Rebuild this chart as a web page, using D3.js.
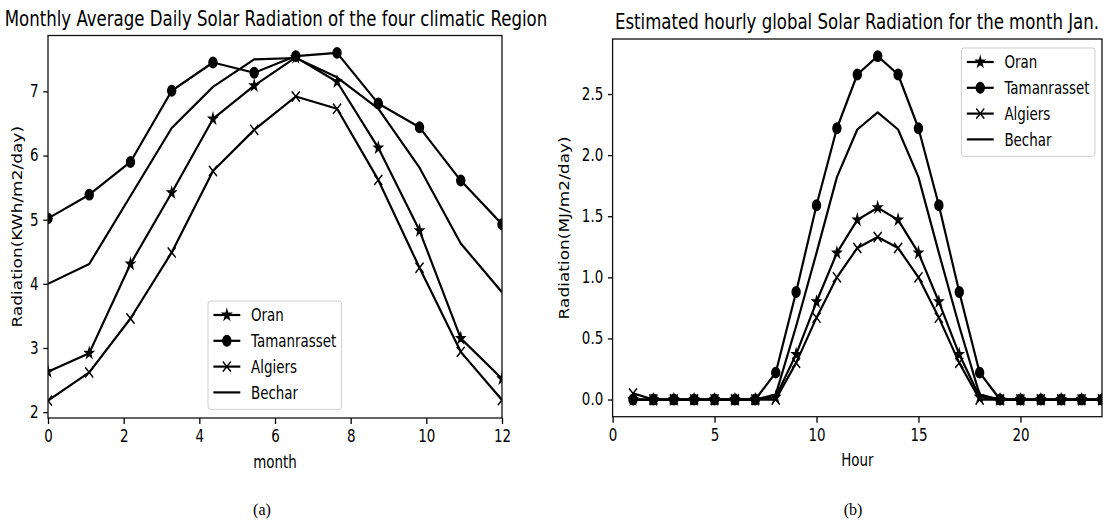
<!DOCTYPE html>
<html>
<head>
<meta charset="utf-8">
<script src="https://cdn.jsdelivr.net/npm/d3@7"></script>
<style>
  body { margin: 0; background: #fff; }
  text { font-family: "DejaVu Sans", sans-serif; fill: #000; }
  .axis text { font-size: 17px; }
  .axis line { stroke: #000; stroke-width: 1.3; }
  .axis path { display: none; }
  .spine { fill: none; stroke: #111; stroke-width: 1.3; }
  .series { fill: none; stroke: #000; stroke-width: 2.2; stroke-linejoin: round; }
  .label { font-size: 17px; }
  .title { font-size: 21px; }
  .caption { font-family: "Liberation Serif", serif; font-size: 16px; }
</style>
</head>
<body>
<script>
// the source figure is squeezed horizontally, so text and markers are too
var SX = 0.79;

var regions = ["Oran", "Tamanrasset", "Algiers", "Bechar"];
var markers = ["star", "circle", "x", "none"];

// (a) monthly average daily radiation, KWh/m2/day
var months = [0, 1.09, 2.18, 3.27, 4.36, 5.45, 6.55, 7.64, 8.73, 9.82, 10.91, 12];
var oranMonthly        = [2.63, 2.92, 4.31, 5.42, 6.57, 7.09, 7.53, 7.15, 6.12, 4.83, 3.15, 2.52];
var tamanrassetMonthly = [5.02, 5.39, 5.90, 7.01, 7.45, 7.29, 7.55, 7.60, 6.81, 6.44, 5.61, 4.93];
var algiersMonthly     = [2.18, 2.62, 3.46, 4.49, 5.76, 6.40, 6.92, 6.73, 5.62, 4.25, 2.94, 2.19];
var becharMonthly      = [4.00, 4.31, 5.37, 6.43, 7.07, 7.50, 7.52, 7.22, 6.73, 5.81, 4.63, 3.87];
var monthTicks = [0, 2, 4, 6, 8, 10, 12];
var monthlyTicks = [2, 3, 4, 5, 6, 7];

// (b) estimated hourly radiation for January, MJ/m2/day
var hours = [1, 2, 3, 4, 5, 6, 7, 8, 9, 10, 11, 12, 13, 14, 15, 16, 17, 18, 19, 20, 21, 22, 23, 24];
var oranHourly        = [0, 0, 0, 0, 0, 0, 0, 0.02, 0.37, 0.80, 1.20, 1.47, 1.57, 1.47, 1.20, 0.80, 0.37, 0.02, 0, 0, 0, 0, 0, 0];
var tamanrassetHourly = [0, 0, 0, 0, 0, 0, 0, 0.22, 0.88, 1.59, 2.22, 2.66, 2.81, 2.66, 2.22, 1.59, 0.88, 0.22, 0, 0, 0, 0, 0, 0];
var algiersHourly     = [0.05, 0, 0, 0, 0, 0, 0, 0, 0.30, 0.67, 1.00, 1.24, 1.33, 1.24, 1.00, 0.67, 0.30, 0, 0, 0, 0, 0, 0, 0];
var becharHourly      = [0, 0, 0, 0, 0, 0, 0, 0.04, 0.60, 1.20, 1.82, 2.21, 2.35, 2.21, 1.82, 1.20, 0.60, 0.04, 0, 0, 0, 0, 0, 0];
var hourTicks = [0, 5, 10, 15, 20];
var hourlyTicks = [0, 0.5, 1, 1.5, 2, 2.5];

var svg = d3.select("body").append("svg")
    .attr("width", 1117)
    .attr("height", 523);

var R = 5.1;

function squeeze(sel) {
  sel.each(function() {
    var t = d3.select(this), x = +t.attr("x") || 0;
    t.attr("transform", "translate(" + x + ",0) scale(" + SX + ",1) translate(" + (-x) + ",0)");
  });
}

function styleMarker(sel, type) {
  if (type == "star") {
    sel.attr("d", d3.symbol(d3.symbolStar, R * R / 0.8908130915292852)())
       .attr("fill", "#000").attr("stroke", "#000").attr("stroke-width", 1.7);
  } else if (type == "circle") {
    sel.attr("d", d3.symbol(d3.symbolCircle, Math.PI * R * R)())
       .attr("fill", "#000").attr("stroke", "#000").attr("stroke-width", 1.7);
  } else {
    sel.attr("d", "M" + (-R) + "," + (-R) + "L" + R + "," + R + "M" + (-R) + "," + R + "L" + R + "," + (-R))
       .attr("fill", "none").attr("stroke", "#000").attr("stroke-width", 1.7);
  }
}

function drawPanel(p) {
  var x = d3.scaleLinear().domain(p.xDomain).range([p.left, p.right]);
  var ext = d3.extent(d3.merge(p.series.map(function(s) { return s.values; })));
  var pad = (ext[1] - ext[0]) * 0.05;
  var y = d3.scaleLinear().domain([ext[0] - pad, ext[1] + pad]).range([p.bottom, p.top]);

  svg.append("clipPath").attr("id", p.id)
    .append("rect")
      .attr("x", p.left).attr("y", p.top)
      .attr("width", p.right - p.left).attr("height", p.bottom - p.top);

  var plot = svg.append("g").attr("clip-path", "url(#" + p.id + ")");

  // Add the series, line then markers
  p.series.forEach(function(s) {
    plot.append("path")
        .datum(s.values)
        .attr("class", "series")
        .attr("d", d3.line()
                     .x(function(d, i) { return x(p.xs[i]); })
                     .y(function(d) { return y(d); }));
    if (s.marker != "none") {
      plot.selectAll(null)
          .data(s.values)
        .enter().append("path")
          .attr("transform", function(d, i) {
            return "translate(" + x(p.xs[i]) + "," + y(d) + ") scale(" + SX + ",1)";
          })
          .call(styleMarker, s.marker);
    }
  });

  // Add the X Axis
  svg.append("g")
      .attr("class", "axis")
      .attr("transform", "translate(0," + p.bottom + ")")
      .call(d3.axisBottom(x).tickValues(p.xTicks).tickSize(6).tickPadding(6).tickFormat(d3.format("d")))
    .selectAll("text").call(squeeze);

  // Add the Y Axis
  svg.append("g")
      .attr("class", "axis")
      .attr("transform", "translate(" + p.left + ",0)")
      .call(d3.axisLeft(y).tickValues(p.yTicks).tickSize(4.7).tickPadding(4.7).tickFormat(d3.format(p.yFormat)))
    .selectAll("text").call(squeeze);

  svg.append("rect")
      .attr("class", "spine")
      .attr("x", p.left).attr("y", p.top)
      .attr("width", p.right - p.left).attr("height", p.bottom - p.top);

  svg.append("text")
      .attr("class", "title")
      .attr("text-anchor", "middle")
      .attr("x", p.titleX)
      .attr("y", p.titleY)
      .text(p.title)
      .call(squeeze);

  svg.append("text")
      .attr("class", "label")
      .attr("text-anchor", "middle")
      .attr("x", (p.left + p.right) / 2)
      .attr("y", p.xlabelY)
      .text(p.xlabel)
      .call(squeeze);

  svg.append("text")
      .attr("class", "label")
      .attr("text-anchor", "middle")
      .attr("dy", "0.3em")
      .attr("transform", "translate(" + p.ylabelX + "," + (p.top + p.bottom) / 2 + ") rotate(-90) scale(1," + SX + ")")
      .text(p.ylabel);

  // Add the legend
  var lg = svg.append("g");
  var box = lg.append("rect");
  var rowGap = 25.8, handle0 = 5.4, handle1 = 32.3, textX = 43;
  var widest = 0;
  p.series.forEach(function(s, i) {
    var ry = 14 + i * rowGap;
    lg.append("line")
        .attr("x1", handle0).attr("x2", handle1)
        .attr("y1", ry).attr("y2", ry)
        .attr("stroke", "#000").attr("stroke-width", 2.2);
    if (s.marker != "none") {
      lg.append("path")
          .attr("transform", "translate(" + (handle0 + handle1) / 2 + "," + ry + ") scale(" + SX + ",1)")
          .call(styleMarker, s.marker);
    }
    var t = lg.append("text")
        .attr("class", "label")
        .attr("x", textX)
        .attr("y", ry)
        .attr("dy", "0.36em")
        .text(s.name)
        .call(squeeze);
    widest = Math.max(widest, t.node().getComputedTextLength() * SX);
  });
  var w = textX + widest + 5.4;
  box.attr("x", 0).attr("y", 0)
      .attr("width", w).attr("height", 14 + 3 * rowGap + 17)
      .attr("rx", 2.4).attr("ry", 3)
      .attr("fill", "#fff").attr("fill-opacity", 0.8)
      .attr("stroke", "#cfcfcf").attr("stroke-width", 1);
  var lx = p.legendAnchor == "right" ? p.legendX - w : p.legendX;
  lg.attr("transform", "translate(" + lx + "," + p.legendY + ")");

  svg.append("text")
      .attr("class", "caption")
      .attr("text-anchor", "middle")
      .attr("x", p.captionX)
      .attr("y", 515)
      .text(p.caption);
}

function makeSeries(lists) {
  return regions.map(function(name, i) {
    return {name: name, marker: markers[i], values: lists[i]};
  });
}

drawPanel({
  id: "clipA",
  left: 48, right: 502, top: 35.5, bottom: 418,
  xDomain: [0, 12], xs: months, xTicks: monthTicks,
  yTicks: monthlyTicks, yFormat: "d",
  series: makeSeries([oranMonthly, tamanrassetMonthly, algiersMonthly, becharMonthly]),
  title: "Monthly Average Daily Solar Radiation of the four climatic Region",
  titleX: 276, titleY: 26,
  xlabel: "month", xlabelY: 468,
  ylabel: "Radiation(KWh/m2/day)", ylabelX: 18,
  legendX: 208, legendY: 301, legendAnchor: "left",
  caption: "(a)", captionX: 262
});

drawPanel({
  id: "clipB",
  left: 612.6, right: 1102, top: 39, bottom: 416.7,
  xDomain: [0, 24], xs: hours, xTicks: hourTicks,
  yTicks: hourlyTicks, yFormat: ".1f",
  series: makeSeries([oranHourly, tamanrassetHourly, algiersHourly, becharHourly]),
  title: "Estimated hourly global Solar Radiation for the month Jan.",
  titleX: 857, titleY: 29,
  xlabel: "Hour", xlabelY: 466.5,
  ylabel: "Radiation(MJ/m2/day)", ylabelX: 565,
  legendX: 1095, legendY: 48, legendAnchor: "right",
  caption: "(b)", captionX: 853
});
</script>
</body>
</html>
